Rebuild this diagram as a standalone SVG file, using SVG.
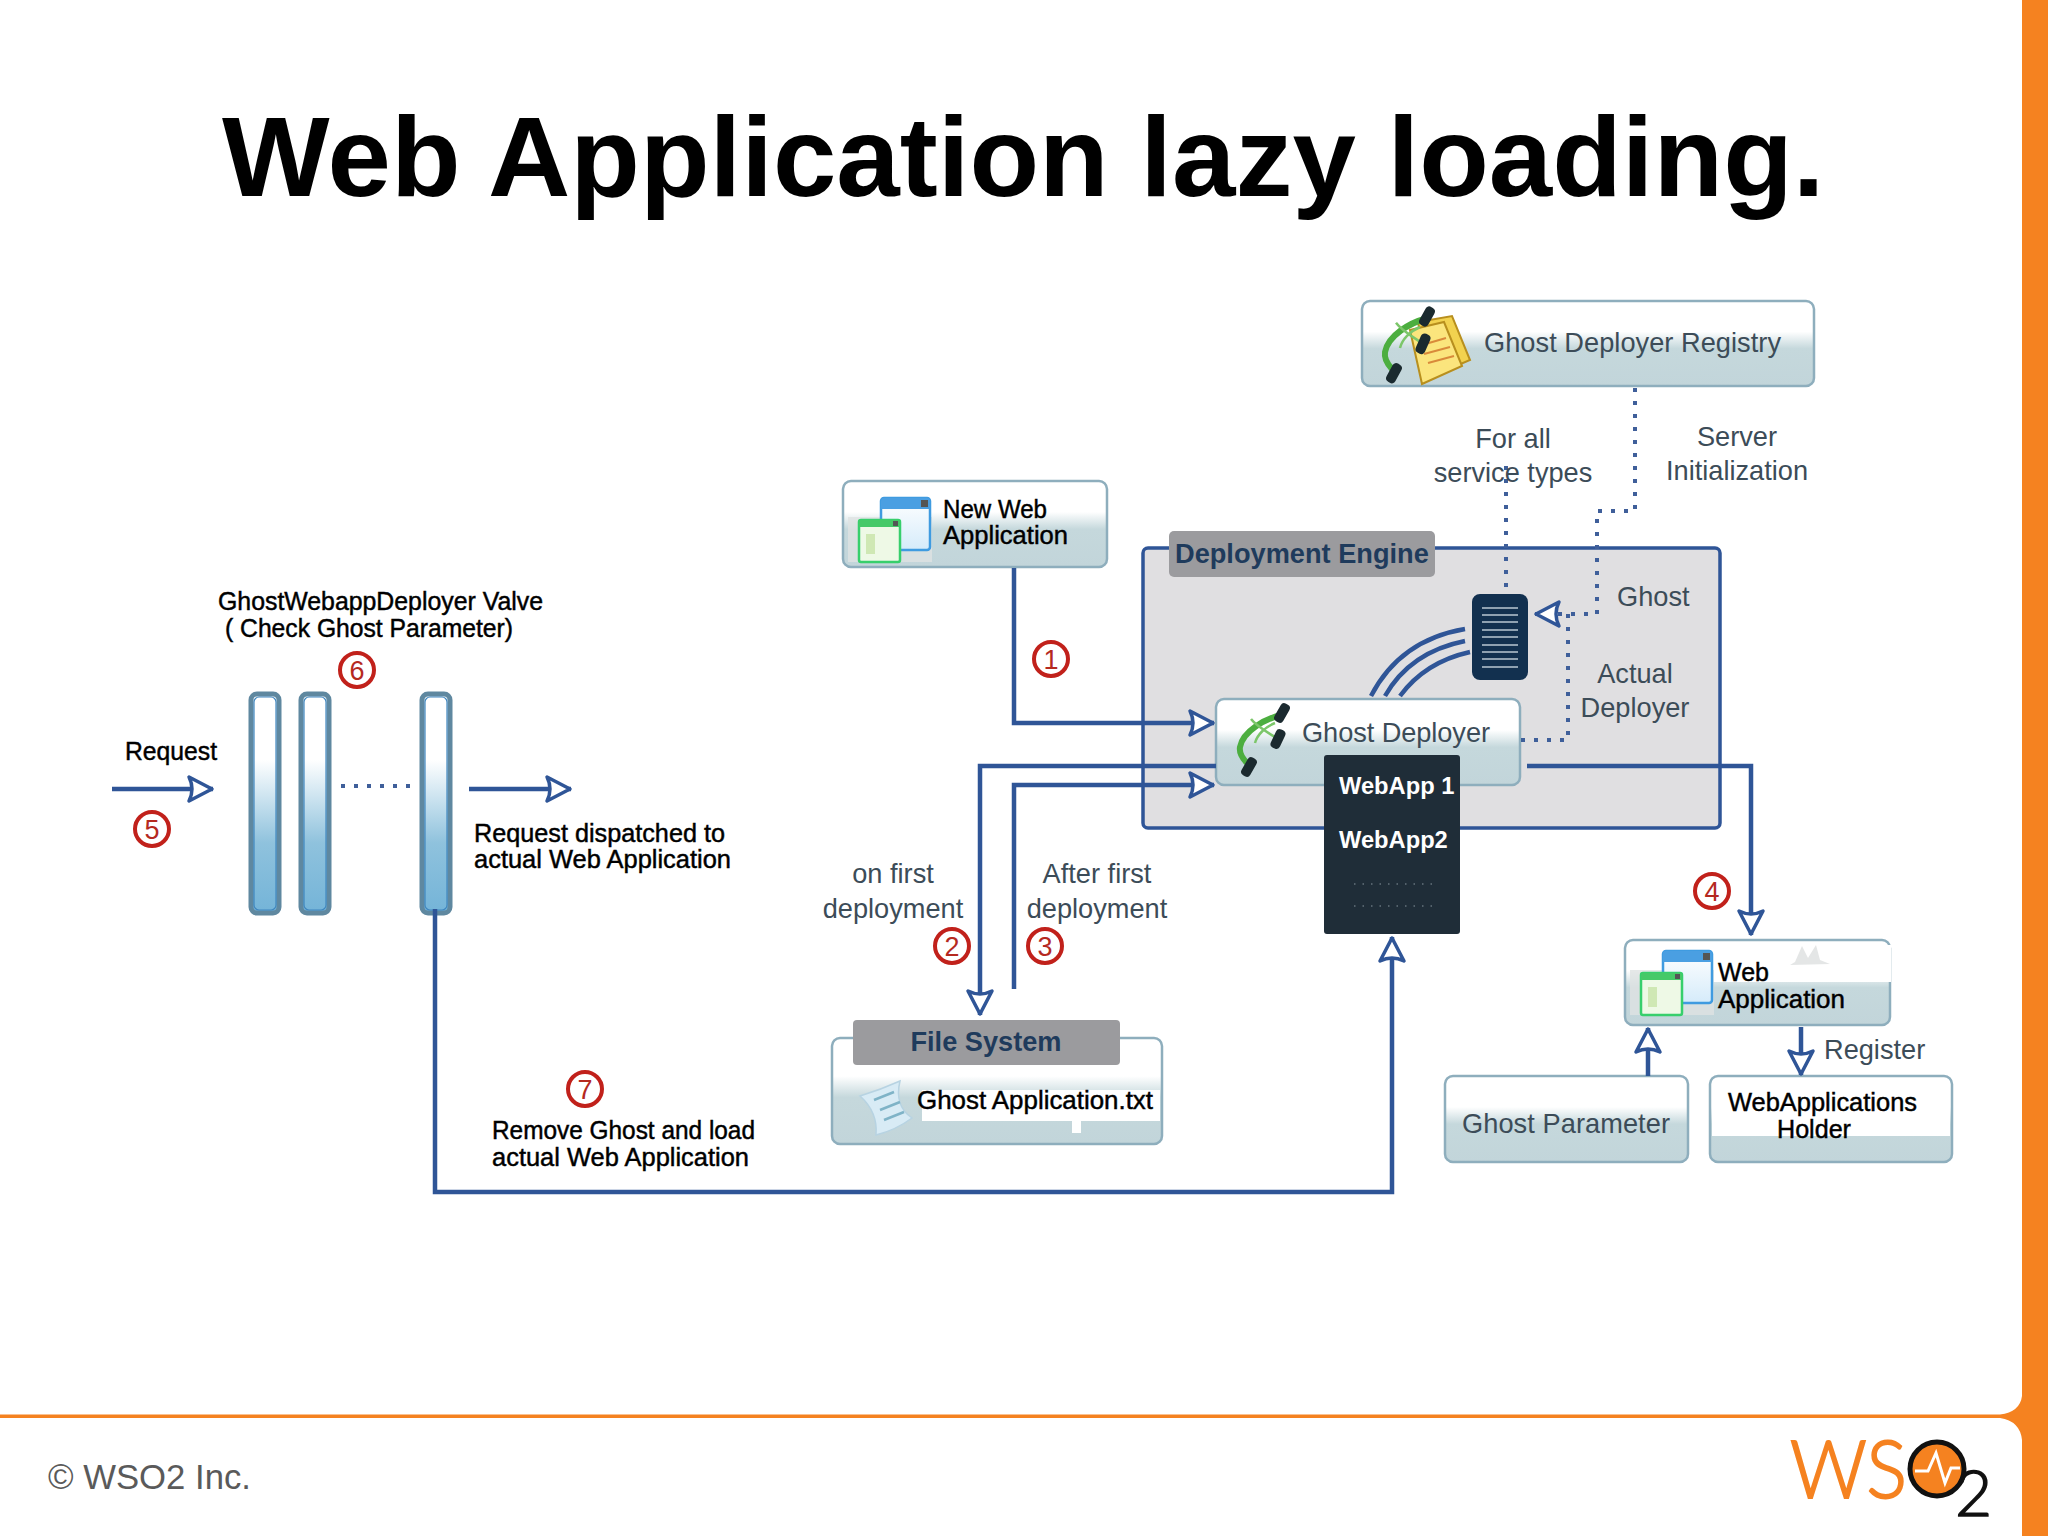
<svg xmlns="http://www.w3.org/2000/svg" xmlns:xlink="http://www.w3.org/1999/xlink" width="2048" height="1536" viewBox="0 0 2048 1536">
<style>
text{font-family:"Liberation Sans",Arial,sans-serif}
.title{font-size:114px;font-weight:700;fill:#000}
.g{font-size:27.2px;fill:#3c4c58}
.k{font-size:25px;fill:#000;stroke:#000;stroke-width:.45}
.h{font-size:27.2px;font-weight:700;fill:#1f3b5c}
.w{font-size:23.7px;font-weight:700;fill:#fff}
.m{text-anchor:middle}
.n{fill:url(#nodeGrad);stroke:#8eaebd;stroke-width:2.5}
.tab{fill:#9b9b9e}
.c{fill:none;stroke:#2f5597;stroke-width:4.5}
.a{marker-end:url(#arrow)}
.d{fill:none;stroke:#3f5f9a;stroke-width:4;stroke-dasharray:4 9}
.bar{fill:url(#barGrad);stroke:#5f88a0;stroke-width:5}
.barin{fill:none;stroke:#3f86bf;stroke-width:1.2}
.num circle{fill:#fff;stroke:#c1211b;stroke-width:4}
.num text{font-size:27px;fill:#b5291f;text-anchor:middle}
.patch{fill:#fff}
.logo{font-family:Lato,"Liberation Sans",sans-serif;font-weight:300}
</style>
<defs>
<linearGradient id="nodeGrad" x1="0" y1="0" x2="0" y2="1">
<stop offset="0" stop-color="#fff"/><stop offset=".36" stop-color="#fff"/><stop offset=".56" stop-color="#c5d8dc"/><stop offset="1" stop-color="#c2d5da"/>
</linearGradient>
<linearGradient id="barGrad" x1="0" y1="0" x2="0" y2="1">
<stop offset="0" stop-color="#fff"/><stop offset=".3" stop-color="#fff"/><stop offset=".68" stop-color="#8fc2dd"/><stop offset="1" stop-color="#74b4d8"/>
</linearGradient>
<linearGradient id="blueWin" x1="0" y1="0" x2="0" y2="1">
<stop offset="0" stop-color="#fff"/><stop offset="1" stop-color="#d5ebfa"/>
</linearGradient>
<marker id="arrow" markerUnits="userSpaceOnUse" markerWidth="34" markerHeight="36" refX="28" refY="18" orient="auto" viewBox="0 0 34 36">
<path d="M4,6 L27,18 L4,30 Q10,18 4,6Z" fill="#fff" stroke="#2f5597" stroke-width="3.5" stroke-linejoin="round"/>
</marker>
<g id="tool">
<path d="M46,12 C30,16 8,28 5,44 C4,50 8,56 12,60" fill="none" stroke="#4cae3f" stroke-width="6"/>
<path d="M46,38 C34,30 22,24 16,16 M40,20 C30,24 22,32 20,40" fill="none" stroke="#7cc66a" stroke-width="2.5"/>
<rect x="42" y="0" width="10" height="20" rx="4" transform="rotate(30 47 10)" fill="#1b2a2f"/>
<rect x="38" y="26" width="10" height="20" rx="4" transform="rotate(25 43 36)" fill="#1b2a2f"/>
<rect x="9" y="54" width="10" height="20" rx="4" transform="rotate(30 14 64)" fill="#1b2a2f"/>
</g>
<g id="windows">
<path d="M0,21 H84 V66 H0Z" fill="#dfe2e2" opacity=".8"/>
<rect x="33" y="2" width="49" height="52" rx="3" fill="url(#blueWin)" stroke="#3f9be0" stroke-width="2.5"/>
<path d="M33,13 V5 Q33,2 36,2 H79 Q82,2 82,5 V13Z" fill="#4a9fe2"/>
<rect x="73" y="4" width="7" height="7" fill="#555"/>
<rect x="11" y="24" width="41" height="42" rx="2" fill="#eef9e6" stroke="#37cf6c" stroke-width="2.5"/>
<path d="M11,31 V26 Q11,24 13,24 H50 Q52,24 52,26 V31Z" fill="#46c968"/>
<rect x="45" y="25" width="5" height="5" fill="#555"/>
<rect x="18" y="38" width="9" height="20" fill="#cfe8b4"/>
</g>
</defs>

<rect width="2048" height="1536" fill="#fff"/>
<text class="title" x="222" y="196">Web Application lazy loading.</text>

<g id="deployment-engine">
<rect x="1143" y="548" width="577" height="280" rx="5" fill="#e0dfe1" stroke="#2f5597" stroke-width="3.5"/>
<rect class="tab" x="1169" y="531" width="266" height="46" rx="5"/>
<text class="h" x="1175" y="563">Deployment Engine</text>
</g>

<g id="ghost-deployer-registry">
<rect class="n" x="1362" y="301" width="452" height="85" rx="8"/>
<path d="M1418,322 L1452,316 L1470,360 L1428,378Z" fill="#f2d24f" stroke="#b88f1e" stroke-width="2"/>
<path d="M1410,330 L1444,322 L1462,366 L1422,384Z" fill="#fbe57d" stroke="#b88f1e" stroke-width="2"/>
<path d="M1422,345 L1446,338 M1424,354 L1450,347 M1428,363 L1454,356" stroke="#d98a3a" stroke-width="2"/>
<use xlink:href="#tool" href="#tool" transform="translate(1380,306) scale(1,1.05)"/>
<text class="g" x="1484" y="352" textLength="297">Ghost Deployer Registry</text>
</g>

<g id="new-web-application">
<rect class="n" x="843" y="481" width="264" height="86" rx="8"/>
<use xlink:href="#windows" href="#windows" transform="translate(848,496)"/>
<text class="k" x="943" y="518" textLength="104" lengthAdjust="spacingAndGlyphs">New Web</text>
<text class="k" x="943" y="544" textLength="125" lengthAdjust="spacingAndGlyphs">Application</text>
</g>

<g id="ghost-server">
<rect x="1472" y="594" width="56" height="86" rx="8" fill="#12304f"/>
<path d="M1482,608H1518M1482,615H1518M1482,622H1518M1482,630H1518M1482,637H1518M1482,645H1518M1482,652H1518M1482,659H1518M1482,667H1518" stroke="#b9c6d2" stroke-width="1.5"/>
</g>

<g id="ghost-deployer">
<rect class="n" x="1216" y="699" width="304" height="86" rx="8"/>
<use xlink:href="#tool" href="#tool" transform="translate(1235,703)"/>
<text class="g" x="1302" y="742" textLength="188">Ghost Deployer</text>
</g>

<g id="webapp-list">
<rect x="1324" y="755" width="136" height="179" rx="3" fill="#1f2d38"/>
<text class="w" x="1339" y="794">WebApp 1</text>
<text class="w" x="1339" y="848">WebApp2</text>
<path d="M1354,884H1436M1354,906H1436" stroke="#66737c" stroke-width="1.5" stroke-dasharray="1.5 7"/>
</g>

<g id="file-system">
<rect class="n" x="832" y="1038" width="330" height="106" rx="8"/>
<rect class="patch" x="922" y="1090" width="238" height="31"/>
<rect class="patch" x="1072" y="1121" width="9" height="12"/>
<path d="M860,1096 Q880,1090 900,1081 Q894,1106 912,1118 Q896,1130 876,1135 Q878,1112 860,1096Z" fill="#d8ebf5" stroke="#b7d3e2" stroke-width="1.5"/>
<path d="M874,1100L894,1092M880,1110L900,1102M884,1120L904,1112" stroke="#7fb3c7" stroke-width="2.5"/>
<rect class="tab" x="853" y="1020" width="267" height="45" rx="4"/>
<text class="h m" x="986" y="1051">File System</text>
<text class="k" x="917" y="1109" textLength="236" lengthAdjust="spacingAndGlyphs">Ghost Application.txt</text>
</g>

<g id="web-application">
<rect class="n" x="1625" y="940" width="265" height="85" rx="8"/>
<rect class="patch" x="1710" y="945" width="181" height="37"/>
<path d="M1795,962 L1802,946 L1808,958 L1816,945 L1820,960 L1830,964 L1790,965Z" fill="#e4e6e6"/>
<use xlink:href="#windows" href="#windows" transform="translate(1630,949)"/>
<text class="k" x="1718" y="981">Web</text>
<text class="k" x="1718" y="1008" textLength="127" lengthAdjust="spacingAndGlyphs">Application</text>
</g>

<g id="ghost-parameter">
<rect class="n" x="1445" y="1076" width="243" height="86" rx="8"/>
<text class="g" x="1462" y="1133" textLength="208">Ghost Parameter</text>
</g>

<g id="webapplications-holder">
<rect class="n" x="1710" y="1076" width="242" height="86" rx="8"/>
<rect class="patch" x="1712" y="1084" width="238" height="52"/>
<text class="k" x="1728" y="1111" textLength="189" lengthAdjust="spacingAndGlyphs">WebApplications</text>
<text class="k" x="1777" y="1138" textLength="74" lengthAdjust="spacingAndGlyphs">Holder</text>
</g>

<g id="valve-1"><rect class="bar" x="251" y="694" width="28" height="219" rx="6"/><rect class="barin" x="254" y="697" width="22" height="213" rx="5"/></g>
<g id="valve-2"><rect class="bar" x="301" y="694" width="28" height="219" rx="6"/><rect class="barin" x="304" y="697" width="22" height="213" rx="5"/></g>
<g id="valve-3"><rect class="bar" x="422" y="694" width="28" height="219" rx="6"/><rect class="barin" x="425" y="697" width="22" height="213" rx="5"/></g>

<g id="connectors">
<path class="c a" d="M1014,568V723H1214"/>
<path class="c a" d="M1216,766H980V1015"/>
<path class="c a" d="M1014,989V785H1214"/>
<path class="c a" d="M1527,766H1751V935"/>
<path class="c a" d="M435,909V1192H1392V937"/>
<path class="c a" d="M112,789H213"/>
<path class="c a" d="M469,789H571"/>
<path class="c a" d="M1648,1076V1028"/>
<path class="c a" d="M1801,1027V1075"/>
<path class="c" d="M1371,696Q1400,640 1465,629M1385,696Q1410,652 1465,641M1400,696Q1425,662 1470,652"/>
<path class="d a" d="M1635,388V511H1597V614H1535"/>
<path class="d" d="M1521,740H1568V614"/>
<path class="d" d="M1506,466V592"/>
<path class="d" d="M341,786H412"/>
</g>

<g id="labels">
<text class="g m" x="1513" y="448">For all</text>
<text class="g m" x="1513" y="482">service types</text>
<text class="g m" x="1737" y="446">Server</text>
<text class="g m" x="1737" y="480">Initialization</text>
<text class="g" x="1617" y="606">Ghost</text>
<text class="g m" x="1635" y="683">Actual</text>
<text class="g m" x="1635" y="717">Deployer</text>
<text class="g m" x="893" y="883">on first</text>
<text class="g m" x="893" y="918">deployment</text>
<text class="g m" x="1097" y="883">After first</text>
<text class="g m" x="1097" y="918">deployment</text>
<text class="g" x="1824" y="1059">Register</text>
<text class="k" x="218" y="610" textLength="325" lengthAdjust="spacingAndGlyphs">GhostWebappDeployer Valve</text>
<text class="k" x="225" y="637" textLength="288" lengthAdjust="spacingAndGlyphs">( Check Ghost Parameter)</text>
<text class="k" x="125" y="760" textLength="92" lengthAdjust="spacingAndGlyphs">Request</text>
<text class="k" x="474" y="842" textLength="251" lengthAdjust="spacingAndGlyphs">Request dispatched to</text>
<text class="k" x="474" y="868" textLength="257" lengthAdjust="spacingAndGlyphs">actual Web Application</text>
<text class="k" x="492" y="1139" textLength="263" lengthAdjust="spacingAndGlyphs">Remove Ghost and load</text>
<text class="k" x="492" y="1166" textLength="257" lengthAdjust="spacingAndGlyphs">actual Web Application</text>
</g>

<g id="step-numbers">
<g class="num"><circle cx="1051" cy="659" r="17"/><text x="1051" y="669">1</text></g>
<g class="num"><circle cx="952" cy="946" r="17"/><text x="952" y="956">2</text></g>
<g class="num"><circle cx="1045" cy="946" r="17"/><text x="1045" y="956">3</text></g>
<g class="num"><circle cx="1712" cy="891" r="17"/><text x="1712" y="901">4</text></g>
<g class="num"><circle cx="152" cy="829" r="17"/><text x="152" y="839">5</text></g>
<g class="num"><circle cx="357" cy="670" r="17"/><text x="357" y="680">6</text></g>
<g class="num"><circle cx="585" cy="1089" r="17"/><text x="585" y="1099">7</text></g>
</g>

<g id="footer">
<rect x="2022" y="0" width="26" height="1536" fill="#f58220"/>
<path d="M0,1414.5H2000Q2020,1412 2022,1396V1440Q2020,1421 2000,1418H0Z" fill="#f58220"/>
<text x="48" y="1489" font-size="35" fill="#5a5a5a" textLength="203" lengthAdjust="spacingAndGlyphs">© WSO2 Inc.</text>
<text class="logo" x="1790" y="1498" font-size="80" fill="#f58220" stroke="#f58220" stroke-width="2" textLength="117" lengthAdjust="spacingAndGlyphs">WS</text>
<circle cx="1937" cy="1469" r="27" fill="#f58220" stroke="#111" stroke-width="5"/>
<path d="M1915,1471H1928L1936,1453L1945,1483L1951,1468H1960" fill="none" stroke="#fff" stroke-width="3"/>
<text class="logo" x="1955" y="1516" font-size="64" fill="#111" stroke="#111" stroke-width="1.5">2</text>
</g>
</svg>
